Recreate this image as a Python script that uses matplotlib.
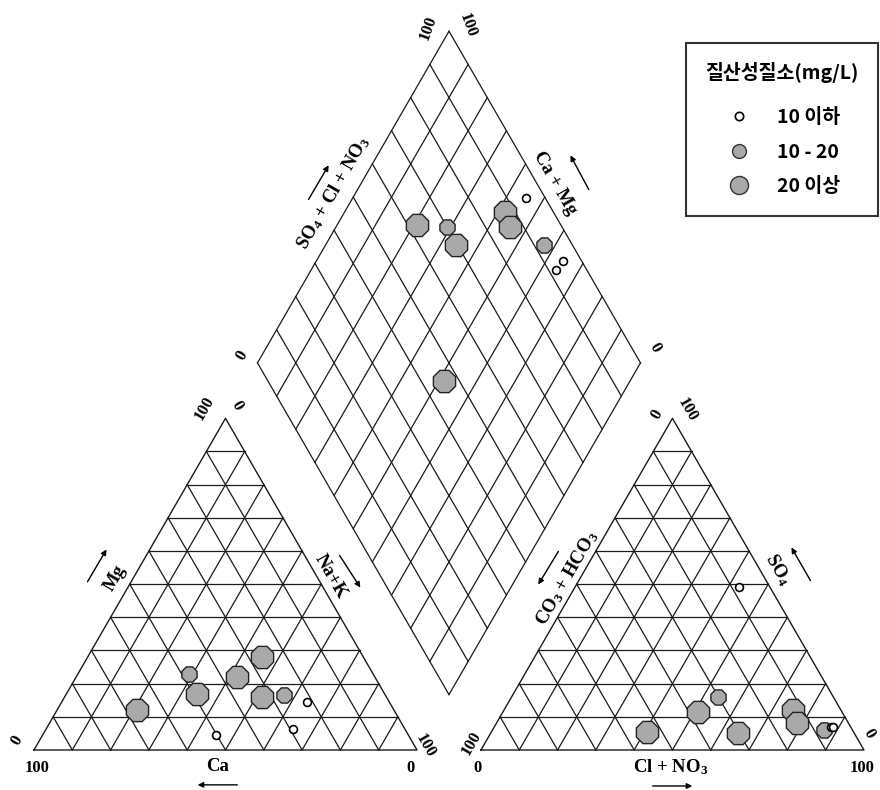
import numpy as np
import matplotlib.pyplot as plt
from matplotlib.lines import Line2D
from matplotlib.font_manager import FontProperties

plt.rcParams['font.family'] = ['Liberation Serif', 'DejaVu Serif']
plt.rcParams['mathtext.fontset'] = 'custom'
plt.rcParams['mathtext.rm'] = 'Liberation Serif:bold'
plt.rcParams['mathtext.default'] = 'rm'

# sample chemistry in % meq
mg = [12, 23, 17, 22, 28, 16, 16.5, 4.6, 14.4, 6.4]
nak = [21, 29, 34, 42, 45.5, 51.5, 57, 45.3, 64, 64.5]
so4 = [11.5, 16, 5, 12, 8, 5.5, 6, 7, 49, 6.8]
cl = [51, 54, 64.5, 75.5, 78.5, 40.5, 86.5, 88, 43, 88.5]
no3_class = ['high', 'mid', 'high', 'high', 'high', 'high', 'mid', 'low', 'low', 'low']

class_names = ['low', 'mid', 'high']
class_labels = ['10 이하', '10 - 20', '20 이상']
legend_title = '질산성질소(mg/L)'

sq = np.sqrt(3) / 2
gap = 0.167
LC = '#1a1a1a'


def cat_xy(m, n):
    return n + m / 2, m * sq


def an_xy(s, c):
    return 1 + gap + c + s / 2, s * sq


def dia_xy(s, c, n):
    a = c + s
    b = 1 - n
    return 1 + gap / 2 + 0.5 * (a - b), gap * sq + sq * (a + b)


def tri_grid(ax, x0):
    ax.plot([x0, x0 + 1, x0 + 0.5, x0], [0, 0, sq, 0], color=LC, lw=1.0)
    for i in range(1, 10):
        f = i / 10
        ax.plot([x0 + f / 2, x0 + 1 - f / 2], [f * sq, f * sq], color=LC, lw=0.9)
        ax.plot([x0 + f, x0 + f + (1 - f) / 2], [0, (1 - f) * sq], color=LC, lw=0.9)
        ax.plot([x0 + f, x0 + f / 2], [0, f * sq], color=LC, lw=0.9)


def dia_grid(ax):
    bx, by = 1 + gap / 2, gap * sq
    for i in range(0, 11):
        f = i / 10
        # lines of constant a
        ax.plot([bx + 0.5 * f, bx + 0.5 * f - 0.5], [by + sq * f, by + sq * f + sq], color=LC, lw=0.9)
        # lines of constant b
        ax.plot([bx - 0.5 * f, bx - 0.5 * f + 0.5], [by + sq * f, by + sq * f + sq], color=LC, lw=0.9)


fig = plt.figure(figsize=(8.8, 7.9), dpi=100)
ax = fig.add_axes([0, 0, 1, 1])
ax.set_xlim(-34 / 383, 846 / 383)
ax.set_ylim(-40 / 383, 750 / 383)
ax.axis('off')

tri_grid(ax, 0)
tri_grid(ax, 1 + gap)
dia_grid(ax)

styles = {
    'low': dict(marker='o', s=32, facecolor='white', edgecolor='black', linewidths=1.2),
    'mid': dict(marker='8', s=140, facecolor='#a9a9a9', edgecolor='#222222', linewidths=1.0),
    'high': dict(marker='8', s=300, facecolor='#a9a9a9', edgecolor='#222222', linewidths=1.0),
}

mg_a = np.array(mg) / 100
nak_a = np.array(nak) / 100
so4_a = np.array(so4) / 100
cl_a = np.array(cl) / 100
cls = np.array(no3_class)

for k in ['high', 'mid', 'low']:
    sel = cls == k
    x, y = cat_xy(mg_a[sel], nak_a[sel])
    ax.scatter(x, y, zorder=3, **styles[k])
    x, y = an_xy(so4_a[sel], cl_a[sel])
    ax.scatter(x, y, zorder=3, **styles[k])
    x, y = dia_xy(so4_a[sel], cl_a[sel], nak_a[sel])
    ax.scatter(x, y, zorder=3, **styles[k])

tk = dict(fontsize=12, fontweight='bold', ha='center', va='center')
# cation triangle
ax.text(0.446, 0.893, '100', rotation=60, **tk)
ax.text(0.530, 0.898, '0', rotation=-60, **tk)
ax.text(-0.044, 0.026, '0', rotation=60, **tk)
ax.text(0.008, -0.047, '100', **tk)
ax.text(0.984, -0.047, '0', **tk)
ax.text(1.021, 0.010, '100', rotation=-60, **tk)
# anion triangle
ax.text(1.627, 0.875, '0', rotation=60, **tk)
ax.text(1.705, 0.888, '100', rotation=-60, **tk)
ax.text(1.141, 0.018, '100', rotation=60, **tk)
ax.text(1.159, -0.047, '0', **tk)
ax.text(2.162, -0.047, '100', **tk)
ax.text(2.180, 0.044, '0', rotation=-60, **tk)
# diamond
ax.text(1.029, 1.885, '100', rotation=70, **tk)
ax.text(1.131, 1.893, '100', rotation=-70, **tk)
ax.text(0.543, 1.031, '0', rotation=60, **tk)
ax.text(1.621, 1.052, '0', rotation=-60, **tk)

lb = dict(fontsize=13.5, fontweight='bold', ha='center', va='center')
ax.text(0.478, -0.042, 'Ca', **lb)
ax.text(0.211, 0.449, 'Mg', rotation=60, **lb)
ax.text(0.775, 0.452, 'Na+K', rotation=-60, **lb)
ax.text(1.661, -0.045, r'Cl + NO$_3$', **lb)
ax.text(1.392, 0.449, r'CO$_3$ + HCO$_3$', rotation=60, **lb)
ax.text(1.943, 0.470, r'SO$_4$', rotation=-60, **lb)
ax.text(0.781, 1.454, r'SO$_4$ + Cl + NO$_3$', rotation=60, **lb)
ax.text(1.360, 1.480, 'Ca + Mg', rotation=-60, **lb)

arrows = [((0.538, -0.091), (0.420, -0.091)),
          ((0.136, 0.433), (0.193, 0.530)),
          ((0.794, 0.514), (0.856, 0.418)),
          ((1.608, -0.094), (1.726, -0.094)),
          ((1.373, 0.525), (1.313, 0.426)),
          ((2.031, 0.436), (1.974, 0.535)),
          ((0.713, 1.431), (0.773, 1.533)),
          ((1.452, 1.457), (1.397, 1.559))]
for a0, a1 in arrows:
    ax.annotate('', xy=a1, xytext=a0,
                arrowprops=dict(arrowstyle='-|>', lw=1.0, color='black', mutation_scale=8))

kfont = FontProperties(family=['Noto Sans CJK KR', 'DejaVu Sans'], weight='bold', size=14)
handles = [Line2D([], [], ls='', marker='o', markersize=6, mfc='white', mec='black', mew=1.2),
           Line2D([], [], ls='', marker='o', markersize=10, mfc='#a9a9a9', mec='#333333'),
           Line2D([], [], ls='', marker='o', markersize=13, mfc='#a9a9a9', mec='#333333')]
leg = ax.legend(handles, class_labels, title=legend_title, prop=kfont, title_fontproperties=kfont,
                loc='upper right', bbox_to_anchor=(0.998, 0.946), frameon=True, fancybox=False,
                edgecolor='black', borderpad=1.0, labelspacing=0.8, handletextpad=1.2,
                handlelength=1.5, borderaxespad=0)
leg.get_frame().set_linewidth(1.5)
leg._legend_box.sep = 18

fig.savefig('out.png', dpi=100)
